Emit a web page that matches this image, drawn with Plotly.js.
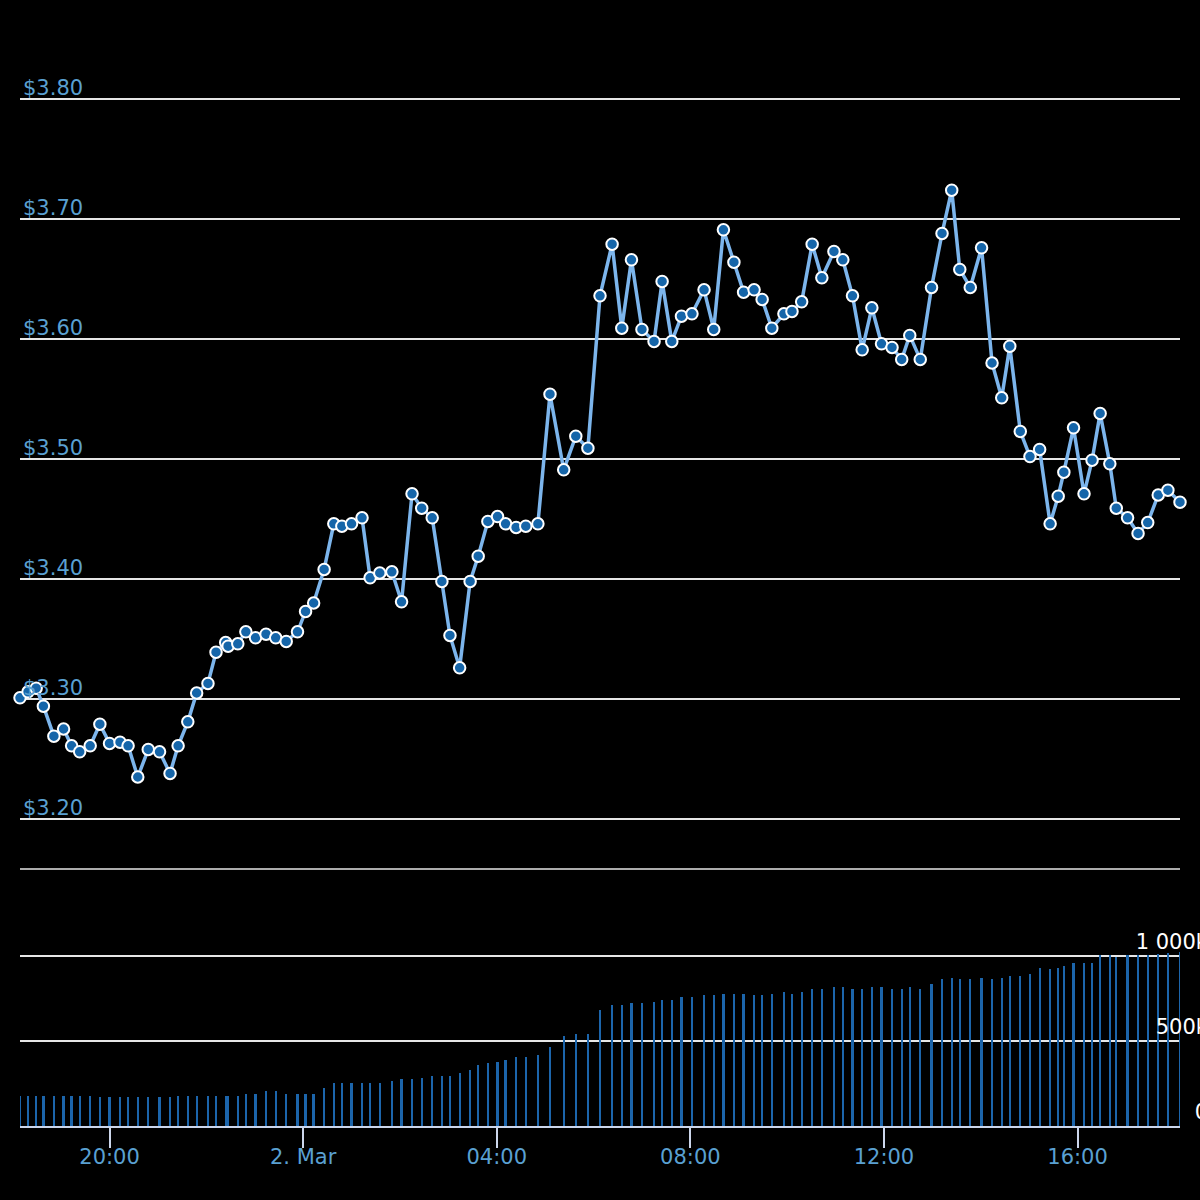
<!DOCTYPE html>
<html>
<head>
<meta charset="utf-8">
<script src="https://cdn.plot.ly/plotly-3.0.1.min.js"></script>
<style>
  html, body { margin: 0; padding: 0; background: #000000; }
  #chart { width: 1200px; height: 1200px; }
</style>
</head>
<body>
<div id="chart"></div>
<script>
// ---- Data ----
const times = [
  "2024-03-01 18:09", "2024-03-01 18:19", "2024-03-01 18:29", "2024-03-01 18:38", "2024-03-01 18:51",
  "2024-03-01 19:03", "2024-03-01 19:13", "2024-03-01 19:23", "2024-03-01 19:36", "2024-03-01 19:48",
  "2024-03-01 20:00", "2024-03-01 20:13", "2024-03-01 20:23", "2024-03-01 20:35", "2024-03-01 20:48",
  "2024-03-01 21:02", "2024-03-01 21:15", "2024-03-01 21:25", "2024-03-01 21:37", "2024-03-01 21:48",
  "2024-03-01 22:02", "2024-03-01 22:12", "2024-03-01 22:24", "2024-03-01 22:27", "2024-03-01 22:39",
  "2024-03-01 22:49", "2024-03-01 23:01", "2024-03-01 23:14", "2024-03-01 23:26", "2024-03-01 23:39",
  "2024-03-01 23:53", "2024-03-02 00:03", "2024-03-02 00:13", "2024-03-02 00:26", "2024-03-02 00:38",
  "2024-03-02 00:48", "2024-03-02 01:00", "2024-03-02 01:13", "2024-03-02 01:23", "2024-03-02 01:35",
  "2024-03-02 01:50", "2024-03-02 02:02", "2024-03-02 02:15", "2024-03-02 02:27", "2024-03-02 02:40",
  "2024-03-02 02:52", "2024-03-02 03:02", "2024-03-02 03:14", "2024-03-02 03:27", "2024-03-02 03:37",
  "2024-03-02 03:49", "2024-03-02 04:01", "2024-03-02 04:11", "2024-03-02 04:24", "2024-03-02 04:36",
  "2024-03-02 04:51", "2024-03-02 05:06", "2024-03-02 05:23", "2024-03-02 05:38", "2024-03-02 05:53",
  "2024-03-02 06:08", "2024-03-02 06:23", "2024-03-02 06:35", "2024-03-02 06:47", "2024-03-02 07:00",
  "2024-03-02 07:15", "2024-03-02 07:25", "2024-03-02 07:37", "2024-03-02 07:49", "2024-03-02 08:02",
  "2024-03-02 08:17", "2024-03-02 08:29", "2024-03-02 08:41", "2024-03-02 08:54", "2024-03-02 09:06",
  "2024-03-02 09:19", "2024-03-02 09:29", "2024-03-02 09:41", "2024-03-02 09:56", "2024-03-02 10:06",
  "2024-03-02 10:18", "2024-03-02 10:31", "2024-03-02 10:43", "2024-03-02 10:58", "2024-03-02 11:09",
  "2024-03-02 11:21", "2024-03-02 11:33", "2024-03-02 11:45", "2024-03-02 11:57", "2024-03-02 12:10",
  "2024-03-02 12:22", "2024-03-02 12:32", "2024-03-02 12:45", "2024-03-02 12:59", "2024-03-02 13:12",
  "2024-03-02 13:24", "2024-03-02 13:34", "2024-03-02 13:47", "2024-03-02 14:01", "2024-03-02 14:14",
  "2024-03-02 14:26", "2024-03-02 14:36", "2024-03-02 14:49", "2024-03-02 15:01", "2024-03-02 15:13",
  "2024-03-02 15:26", "2024-03-02 15:36", "2024-03-02 15:43", "2024-03-02 15:55", "2024-03-02 16:08",
  "2024-03-02 16:18", "2024-03-02 16:28", "2024-03-02 16:40", "2024-03-02 16:48", "2024-03-02 17:02",
  "2024-03-02 17:15", "2024-03-02 17:27", "2024-03-02 17:40", "2024-03-02 17:52", "2024-03-02 18:07"
];

const prices = [
  3.301, 3.306, 3.309, 3.294, 3.269, 3.275, 3.261, 3.256, 3.261, 3.279,
  3.263, 3.264, 3.261, 3.235, 3.258, 3.256, 3.238, 3.261, 3.281, 3.305,
  3.313, 3.339, 3.347, 3.344, 3.346, 3.356, 3.351, 3.354, 3.351, 3.348,
  3.356, 3.373, 3.380, 3.408, 3.446, 3.444, 3.446, 3.451, 3.401, 3.405,
  3.406, 3.381, 3.471, 3.459, 3.451, 3.398, 3.353, 3.326, 3.398, 3.419,
  3.448, 3.452, 3.446, 3.443, 3.444, 3.446, 3.554, 3.491, 3.519, 3.509,
  3.636, 3.679, 3.609, 3.666, 3.608, 3.598, 3.648, 3.598, 3.619, 3.621,
  3.641, 3.608, 3.691, 3.664, 3.639, 3.641, 3.633, 3.609, 3.621, 3.623,
  3.631, 3.679, 3.651, 3.673, 3.666, 3.636, 3.591, 3.626, 3.596, 3.593,
  3.583, 3.603, 3.583, 3.643, 3.688, 3.724, 3.658, 3.643, 3.676, 3.580,
  3.551, 3.594, 3.523, 3.502, 3.508, 3.446, 3.469, 3.489, 3.526, 3.471,
  3.499, 3.538, 3.496, 3.459, 3.451, 3.438, 3.447, 3.470, 3.474, 3.464
];

const volumes = [
  179000, 179000, 179000, 179000, 179000, 179000, 179000, 179000, 179000, 168000,
  168000, 168000, 168000, 168000, 168000, 168000, 168000, 179000, 179000, 179000,
  179000, 179000, 179000, 179000, 179000, 191000, 191000, 203000, 203000, 191000,
  191000, 191000, 191000, 226000, 250000, 250000, 250000, 250000, 250000, 250000,
  262000, 274000, 274000, 285000, 297000, 297000, 297000, 309000, 332000, 356000,
  368000, 379000, 391000, 403000, 403000, 415000, 462000, 532000, 544000, 544000,
  685000, 709000, 709000, 721000, 721000, 732000, 744000, 744000, 756000, 756000,
  768000, 768000, 779000, 779000, 779000, 768000, 768000, 779000, 791000, 779000,
  791000, 803000, 803000, 815000, 815000, 803000, 803000, 815000, 815000, 803000,
  803000, 815000, 803000, 838000, 862000, 873000, 862000, 862000, 873000, 862000,
  873000, 885000, 885000, 897000, 932000, 921000, 932000, 944000, 956000, 956000,
  956000, 1003000, 1003000, 992000, 1003000, 1003000, 1003000, 1011000, 1019000, 1023000
];

const xTickVals = ["2024-03-01 20:00", "2024-03-02 00:00", "2024-03-02 04:00", "2024-03-02 08:00", "2024-03-02 12:00", "2024-03-02 16:00"];
const xTickText = ["20:00", "2. Mar", "04:00", "08:00", "12:00", "16:00"];
const priceTickVals = [3.2, 3.3, 3.4, 3.5, 3.6, 3.7, 3.8];
const priceTickText = ["$3.20", "$3.30", "$3.40", "$3.50", "$3.60", "$3.70", "$3.80"];
const volumeTickVals = [0, 500000, 1000000];
const volumeTickText = ["0", "500k", "1 000k"];

// ---- Styling ----
const FONT = "DejaVu Sans";
const LABEL_BLUE = "#5aa0d2";
const GRID = "#e6e6e6";
const SPLIT = 0.23665;   // boundary between volume pane and price pane (paper fraction)

const priceTrace = {
  type: "scatter",
  mode: "lines+markers",
  x: times,
  y: prices,
  xaxis: "x",
  yaxis: "y",
  cliponaxis: false,
  line: { color: "#7cb5ec", width: 3.5 },
  marker: { color: "#1565a9", size: 11.5, line: { color: "#ffffff", width: 2 } },
  hoverinfo: "x+y"
};

const volumeTrace = {
  type: "bar",
  x: times,
  y: volumes,
  xaxis: "x",
  yaxis: "y2",
  width: 170000,
  cliponaxis: false,
  marker: { color: "#1c65ab", line: { width: 0 } },
  hoverinfo: "x+y"
};

const layout = {
  width: 1200,
  height: 1200,
  paper_bgcolor: "#000000",
  plot_bgcolor: "#000000",
  margin: { l: 20, r: 20, t: 40, b: 74 },
  showlegend: false,
  bargap: 0,
  font: { family: FONT, size: 21, color: LABEL_BLUE },
  xaxis: {
    type: "date",
    anchor: "y2",
    range: [times[0], times[times.length - 1]],
    tickmode: "array",
    tickvals: xTickVals,
    ticktext: xTickText,
    showgrid: false,
    zeroline: false,
    showline: true,
    linecolor: "#ccd6eb",
    linewidth: 2,
    ticks: "outside",
    ticklen: 20,
    tickwidth: 2,
    tickcolor: "#ccd6eb",
    ticklabelstandoff: -9,
    tickfont: { family: FONT, size: 21, color: LABEL_BLUE }
  },
  yaxis: {
    domain: [SPLIT, 1],
    anchor: "x",
    range: [3.158333, 3.849167],
    tickmode: "array",
    tickvals: priceTickVals,
    ticktext: priceTickText,
    ticklabelposition: "inside top",
    ticklabelshift: 3,
    ticks: "",
    showline: false,
    zeroline: false,
    showgrid: true,
    gridcolor: GRID,
    gridwidth: 1.5,
    tickfont: { family: FONT, size: 21, color: LABEL_BLUE }
  },
  yaxis2: {
    domain: [0, SPLIT],
    anchor: "x",
    side: "right",
    range: [0, 1511800],
    tickmode: "array",
    tickvals: volumeTickVals,
    ticktext: volumeTickText,
    ticklabelposition: "inside top",
    ticklabelstandoff: -31,
    ticks: "",
    showline: false,
    zeroline: false,
    showgrid: true,
    gridcolor: GRID,
    gridwidth: 1.5,
    tickfont: { family: FONT, size: 21, color: "#ffffff" }
  },
  shapes: [
    { type: "line", xref: "paper", yref: "paper", x0: 0, x1: 1, y0: SPLIT, y1: SPLIT,
      line: { color: GRID, width: 1.5 }, layer: "below" }
  ]
};

Plotly.newPlot("chart", [volumeTrace, priceTrace], layout, { displayModeBar: false, staticPlot: true });
</script>
</body>
</html>
